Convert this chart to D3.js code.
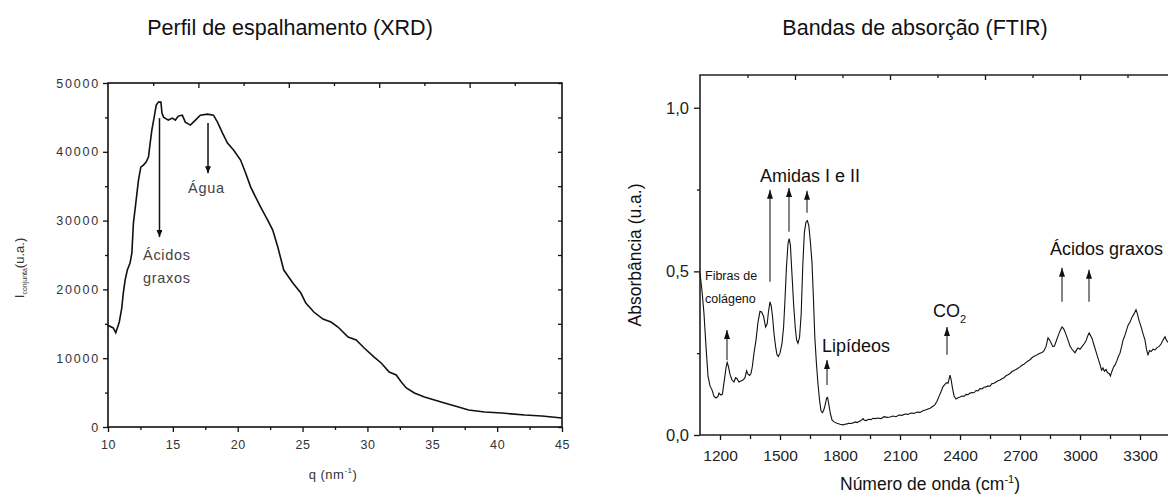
<!DOCTYPE html>
<html>
<head>
<meta charset="utf-8">
<script src="https://cdn.jsdelivr.net/npm/d3@7"></script>
<style>
  body { margin: 0; background: #fff; }
  svg { font-family: "Liberation Sans", Arial, sans-serif; }
</style>
</head>
<body>
<div id="chart"></div>
<script>
// ---- XRD data (q in nm^-1, intensity in u.a.) ----
const xrdQ = [10, 10.4, 10.6, 10.87, 11.06, 11.18, 11.32, 11.49, 11.7, 11.84, 11.96, 12.17, 12.35, 12.53, 12.73,
  12.94, 13.12, 13.25, 13.38, 13.56, 13.72, 13.89, 14.08, 14.16, 14.28, 14.65, 14.96, 15.19, 15.42, 15.73,
  15.96, 16.35, 16.74, 17.12, 17.67, 18.13, 18.44, 18.83, 19.21, 19.68, 20.22, 20.61, 21.0, 21.38, 21.77,
  22.31, 22.7, 23.09, 23.55, 24.25, 24.87, 25.25, 25.87, 26.57, 27.19, 27.73, 28.51, 29.13, 29.75, 30.52,
  31.06, 31.68, 32.22, 32.61, 33.0, 33.62, 34.39, 35.17, 35.94, 37.02, 37.8, 39.04, 40.35, 42.14, 43.45, 44.23, 45];
const xrdI = [14800, 14400, 13700, 15260, 17290, 19470, 21360, 22810, 23830, 25280, 29640, 32980, 35890, 37780, 38070,
  38500, 39230, 41270, 43150, 45040, 46790, 47220, 47220, 45620, 45040, 44610, 44900, 44610, 45190, 45330,
  44320, 43880, 44610, 45330, 45480, 45330, 44320, 42720, 41270, 40250, 38800, 36910, 34870, 33420, 31970,
  30080, 28620, 26150, 22810, 20920, 19470, 18020, 16710, 15690, 15260, 14530, 13080, 12640, 11480, 10170,
  9300, 7990, 7560, 6540, 5670, 4940, 4360, 3920, 3490, 2910, 2470, 2180, 2030, 1740, 1600, 1450, 1300];
const xrdXTicks = [10, 15, 20, 25, 30, 35, 40, 45];
const xrdYTicks = [0, 10000, 20000, 30000, 40000, 50000];
// annotation arrows: [q, from I, to I]
const xrdArrows = [[13.97, 44900, 27600], [17.71, 44200, 36900]];
const xrdLabels = [["Ácidos", 12.7, 24300], ["graxos", 12.7, 20900], ["Água", 16.17, 34000]];

// ---- FTIR data (wavenumber in cm^-1, absorbance in u.a.) ----
const ftirWave = [1100, 1110, 1120, 1130, 1140, 1150, 1160, 1170, 1180, 1190, 1195, 1205, 1212, 1220, 1230, 1236,
  1242, 1250, 1260, 1270, 1278, 1285, 1295, 1305, 1315, 1325, 1333, 1340, 1348, 1355, 1362, 1370, 1380, 1390,
  1400, 1408, 1418, 1428, 1436, 1442, 1450, 1456, 1463, 1470, 1478, 1485, 1492, 1500, 1510, 1518, 1525, 1532,
  1540, 1546, 1552, 1560, 1568, 1576, 1583, 1590, 1598, 1606, 1614, 1622, 1630, 1637, 1644, 1652, 1660, 1667,
  1674, 1682, 1690, 1698, 1705, 1712, 1718, 1725, 1733, 1738, 1745, 1752, 1760, 1770, 1785, 1800, 1815, 1825,
  1835, 1845, 1855, 1865, 1875, 1885, 1895, 1905, 1915, 1920, 1930, 1945, 1955, 1965, 1975, 1990, 2005, 2020,
  2035, 2050, 2065, 2080, 2095, 2110, 2125, 2140, 2155, 2170, 2185, 2200, 2215, 2230, 2250, 2265, 2275, 2285,
  2295, 2305, 2315, 2325, 2333, 2340, 2345, 2350, 2356, 2362, 2370, 2380, 2390, 2400, 2410, 2420, 2430, 2440,
  2450, 2460, 2470, 2480, 2490, 2500, 2510, 2520, 2530, 2540, 2550, 2560, 2570, 2580, 2590, 2600, 2610, 2620,
  2630, 2640, 2650, 2660, 2670, 2680, 2690, 2700, 2710, 2720, 2730, 2740, 2750, 2760, 2770, 2780, 2790, 2800,
  2810, 2820, 2830, 2840, 2848, 2856, 2864, 2872, 2880, 2890, 2900, 2910, 2918, 2925, 2933, 2940, 2950, 2960,
  2968, 2975, 2983, 2990, 3000, 3010, 3020, 3030, 3040, 3046, 3052, 3060, 3070, 3080, 3090, 3100, 3108, 3115,
  3122, 3130, 3138, 3146, 3152, 3160, 3168, 3176, 3185, 3192, 3200, 3208, 3215, 3222, 3230, 3240, 3250, 3260,
  3270, 3280, 3287, 3295, 3305, 3315, 3325, 3333, 3340, 3348, 3356, 3365, 3375, 3385, 3395, 3405, 3415, 3425,
  3432, 3440, 3450];
const ftirAbs = [0.495, 0.44, 0.37, 0.27, 0.18, 0.15, 0.138, 0.118, 0.113, 0.118, 0.128, 0.122, 0.125, 0.16, 0.205, 0.222,
  0.21, 0.185, 0.168, 0.162, 0.175, 0.172, 0.162, 0.165, 0.168, 0.175, 0.196, 0.186, 0.182, 0.188, 0.21, 0.251, 0.29, 0.345,
  0.378, 0.376, 0.362, 0.33, 0.34, 0.375, 0.407, 0.395, 0.36, 0.31, 0.27, 0.245, 0.24, 0.25, 0.28, 0.33, 0.413, 0.51,
  0.585, 0.6, 0.58, 0.49, 0.4, 0.33, 0.29, 0.28, 0.3, 0.37, 0.52, 0.62, 0.65, 0.655, 0.64, 0.59, 0.526, 0.42,
  0.3, 0.22, 0.155, 0.105, 0.075, 0.068, 0.075, 0.09, 0.113, 0.115, 0.09, 0.065, 0.046, 0.04, 0.036, 0.033, 0.031, 0.033,
  0.034, 0.036, 0.035, 0.037, 0.04, 0.038, 0.041, 0.044, 0.05, 0.046, 0.044, 0.048, 0.047, 0.051, 0.05, 0.052, 0.05, 0.056,
  0.054, 0.055, 0.058, 0.056, 0.061, 0.06, 0.064, 0.063, 0.067, 0.066, 0.07, 0.069, 0.074, 0.077, 0.082, 0.088, 0.093, 0.103,
  0.118, 0.132, 0.148, 0.155, 0.16, 0.158, 0.17, 0.183, 0.168, 0.145, 0.12, 0.11, 0.114, 0.116, 0.119, 0.118, 0.124, 0.123,
  0.128, 0.13, 0.129, 0.136, 0.135, 0.142, 0.141, 0.146, 0.147, 0.15, 0.149, 0.157, 0.158, 0.162, 0.166, 0.168, 0.172, 0.175,
  0.181, 0.184, 0.188, 0.194, 0.197, 0.2, 0.204, 0.208, 0.213, 0.216, 0.222, 0.226, 0.23, 0.236, 0.241, 0.243, 0.247, 0.25,
  0.252, 0.258, 0.27, 0.297, 0.29, 0.28, 0.27, 0.272, 0.285, 0.302, 0.318, 0.33, 0.325, 0.315, 0.302, 0.29, 0.272, 0.262,
  0.256, 0.251, 0.26, 0.266, 0.262, 0.27, 0.278, 0.288, 0.305, 0.312, 0.305, 0.295, 0.275, 0.255, 0.235, 0.215, 0.198, 0.205,
  0.195, 0.2, 0.19, 0.188, 0.18, 0.195, 0.208, 0.215, 0.228, 0.24, 0.25, 0.27, 0.29, 0.3, 0.315, 0.335, 0.345, 0.36,
  0.37, 0.383, 0.37, 0.35, 0.332, 0.31, 0.29, 0.26, 0.245, 0.258, 0.255, 0.262, 0.26, 0.267, 0.27, 0.278, 0.29, 0.3,
  0.29, 0.284, 0.28];
const ftirXTicks = [1200, 1500, 1800, 2100, 2400, 2700, 3000, 3300];
const ftirYTicks = [0, 0.5, 1.0];
// annotation arrows: [wavenumber, from A, to A]
const ftirArrows = [[1235, 0.229, 0.321], [1450, 0.468, 0.749], [1545, 0.621, 0.755], [1635, 0.679, 0.746],
  [1735, 0.153, 0.229], [2335, 0.245, 0.33], [2910, 0.407, 0.511], [3045, 0.407, 0.505]];
const ftirLabels = [["Amidas I e II", 1400, 0.774, 18], ["Fibras de", 1125, 0.474, 12.5], ["colágeno", 1125, 0.404, 12.5],
  ["Lipídeos", 1710, 0.254, 18], ["Ácidos graxos", 2850, 0.55, 18]];

const W = 1168, H = 497;
const svg = d3.select("#chart").append("svg").attr("width", W).attr("height", H);

const defs = svg.append("defs");
defs.append("marker").attr("id", "headL")
  .attr("viewBox", "0 -3 7 6").attr("refX", 7).attr("refY", 0)
  .attr("markerUnits", "userSpaceOnUse").attr("markerWidth", 7).attr("markerHeight", 6)
  .attr("orient", "auto")
  .append("path").attr("d", "M0,-3L7,0L0,3Z").attr("fill", "#111");
defs.append("marker").attr("id", "headR")
  .attr("viewBox", "0 -3 9 6").attr("refX", 9).attr("refY", 0)
  .attr("markerUnits", "userSpaceOnUse").attr("markerWidth", 9).attr("markerHeight", 6)
  .attr("orient", "auto")
  .append("path").attr("d", "M0,-3L9,0L0,3Z").attr("fill", "#111");

// titles
svg.append("text").attr("x", 290).attr("y", 35).attr("text-anchor", "middle")
  .attr("font-size", 21.5).attr("fill", "#111").text("Perfil de espalhamento (XRD)");
svg.append("text").attr("x", 915).attr("y", 35).attr("text-anchor", "middle")
  .attr("font-size", 21.5).attr("fill", "#111").text("Bandas de absorção (FTIR)");

function styleAxis(g, size, color, spacing) {
  g.select(".domain").remove();
  g.selectAll("line").attr("stroke", "#111").attr("stroke-width", 1.3);
  g.selectAll("text").attr("font-size", size).attr("fill", color)
    .attr("font-family", "'Liberation Sans', Arial, sans-serif")
    .style("letter-spacing", spacing ? spacing + "px" : null);
}

// ================= XRD =================
const x1 = d3.scaleLinear().domain([10, 45]).range([108, 562]);
const y1 = d3.scaleLinear().domain([0, 50000]).range([427, 83]);
const x1top = d3.scaleLinear().domain([0, 10]).range([108, 560]);
const g1 = svg.append("g");

g1.append("g").attr("transform", "translate(0,427)")
  .call(d3.axisBottom(x1).tickValues(d3.range(12.5, 45, 5)).tickSize(3).tickFormat(""))
  .call(g => styleAxis(g, 12, "#333"));
g1.append("g").attr("transform", "translate(0,427)")
  .call(d3.axisBottom(x1).tickValues(xrdXTicks).tickSize(5).tickPadding(8).tickFormat(d3.format("d")))
  .call(g => styleAxis(g, 12.5, "#333", 0.6));
g1.append("g").attr("transform", "translate(108,0)")
  .call(d3.axisLeft(y1).tickValues(d3.range(5000, 50000, 10000)).tickSize(3).tickFormat(""))
  .call(g => styleAxis(g, 12, "#333"));
g1.append("g").attr("transform", "translate(108,0)")
  .call(d3.axisLeft(y1).tickValues(xrdYTicks).tickSize(5).tickPadding(3).tickFormat(d3.format("d")))
  .call(g => styleAxis(g, 12.5, "#333", 1.8));
g1.append("g").attr("transform", "translate(562,0)")
  .call(d3.axisRight(y1).tickValues(d3.range(0, 50001, 5000)).tickSize(-4).tickFormat(""))
  .call(g => styleAxis(g, 12, "#333"));
g1.append("g").attr("transform", "translate(0,83)")
  .call(d3.axisTop(x1top).tickValues(d3.range(1, 10)).tickFormat("")
    .tickSize(-4))
  .call(g => styleAxis(g, 12, "#333"))
  .call(g => g.selectAll(".tick line").attr("y2", d => d % 2 === 0 ? 5 : 3));

g1.append("rect").attr("x", 108).attr("y", 83).attr("width", 562 - 108).attr("height", 427 - 83)
  .attr("fill", "none").attr("stroke", "#111").attr("stroke-width", 1.6);

g1.append("path").datum(d3.zip(xrdQ, xrdI))
  .attr("fill", "none").attr("stroke", "#111").attr("stroke-width", 1.6)
  .attr("d", d3.line().x(d => x1(d[0])).y(d => y1(d[1])));

g1.selectAll("line.arrow").data(xrdArrows).join("line").attr("class", "arrow")
  .attr("x1", d => x1(d[0])).attr("x2", d => x1(d[0]))
  .attr("y1", d => y1(d[1])).attr("y2", d => y1(d[2]))
  .attr("stroke", "#111").attr("stroke-width", 1.5).attr("marker-end", "url(#headL)");
g1.selectAll("text.lab").data(xrdLabels).join("text").attr("class", "lab")
  .attr("x", d => x1(d[1])).attr("y", d => y1(d[2]))
  .attr("font-size", 14.5).attr("fill", "#444").style("letter-spacing", "0.7px")
  .text(d => d[0]);

// axis labels
const yl1 = g1.append("text").attr("transform", "translate(24,268) rotate(-90)")
  .attr("text-anchor", "middle").attr("font-size", 13).attr("fill", "#333");
yl1.append("tspan").text("I");
yl1.append("tspan").attr("font-size", 7).attr("dy", 3).text("conjunta");
yl1.append("tspan").attr("dy", -3).text("(u.a.)");
const xl1 = g1.append("text").attr("x", 333).attr("y", 479).attr("text-anchor", "middle")
  .attr("font-size", 13).attr("fill", "#333").style("letter-spacing", "0.5px");
xl1.append("tspan").text("q (nm");
xl1.append("tspan").attr("font-size", 8).attr("dy", -6).text("-1");
xl1.append("tspan").attr("dy", 6).text(")");

// ================= FTIR =================
const x2 = d3.scaleLinear().domain([1100, 3500]).range([700, 1180]);
const y2 = d3.scaleLinear().domain([0, 1.1]).range([435, 75]);
const x2top = d3.scaleLinear().domain([0, 10]).range([700, 1175]);
const g2 = svg.append("g");
const commaFmt = d => d3.format(".1f")(d).replace(".", ",");

g2.append("g").attr("transform", "translate(0,435)")
  .call(d3.axisBottom(x2).tickValues(d3.range(1350, 3500, 300)).tickSize(4).tickFormat(""))
  .call(g => styleAxis(g, 16, "#222"));
g2.append("g").attr("transform", "translate(0,435)")
  .call(d3.axisBottom(x2).tickValues(ftirXTicks).tickSize(5).tickPadding(10).tickFormat(d3.format("d")))
  .call(g => styleAxis(g, 15.5, "#222"));
g2.append("g").attr("transform", "translate(700,0)")
  .call(d3.axisLeft(y2).tickValues([0.25, 0.75]).tickSize(3).tickFormat(""))
  .call(g => styleAxis(g, 16, "#222"));
g2.append("g").attr("transform", "translate(700,0)")
  .call(d3.axisLeft(y2).tickValues(ftirYTicks).tickSize(6).tickPadding(5).tickFormat(commaFmt))
  .call(g => styleAxis(g, 16.5, "#222"));
g2.append("g").attr("transform", "translate(0,75)")
  .call(d3.axisTop(x2top).tickValues(d3.range(1, 10)).tickFormat("").tickSize(-4))
  .call(g => styleAxis(g, 12, "#222"))
  .call(g => g.selectAll(".tick line").attr("y2", d => d % 2 === 0 ? 5 : 3));

g2.append("path").attr("d", "M1180,75H700V435H1180")
  .attr("fill", "none").attr("stroke", "#222").attr("stroke-width", 1.6);

g2.append("path").datum(d3.zip(ftirWave, ftirAbs))
  .attr("fill", "none").attr("stroke", "#111").attr("stroke-width", 1.1)
  .attr("d", d3.line().x(d => x2(d[0])).y(d => y2(d[1])));

g2.selectAll("line.arrow").data(ftirArrows).join("line").attr("class", "arrow")
  .attr("x1", d => x2(d[0])).attr("x2", d => x2(d[0]))
  .attr("y1", d => y2(d[1])).attr("y2", d => y2(d[2]))
  .attr("stroke", "#333").attr("stroke-width", 1.2).attr("marker-end", "url(#headR)");
g2.selectAll("text.lab").data(ftirLabels).join("text").attr("class", "lab")
  .attr("x", d => x2(d[1])).attr("y", d => y2(d[2]))
  .attr("font-size", d => d[3]).attr("fill", "#111")
  .text(d => d[0]);
const co2 = g2.append("text").attr("x", x2(2265)).attr("y", y2(0.361))
  .attr("font-size", 18).attr("fill", "#111");
co2.append("tspan").text("CO");
co2.append("tspan").attr("font-size", 11).attr("dy", 6).text("2");

const yl2 = g2.append("text").attr("transform", "translate(641,255) rotate(-90)")
  .attr("text-anchor", "middle").attr("font-size", 17.5).attr("fill", "#111")
  .text("Absorbância (u.a.)");
const xl2 = g2.append("text").attr("x", 930).attr("y", 490).attr("text-anchor", "middle")
  .attr("font-size", 17.5).attr("fill", "#111");
xl2.append("tspan").text("Número de onda (cm");
xl2.append("tspan").attr("font-size", 11).attr("dy", -7).text("-1");
xl2.append("tspan").attr("dy", 7).text(")");
</script>
</body>
</html>
